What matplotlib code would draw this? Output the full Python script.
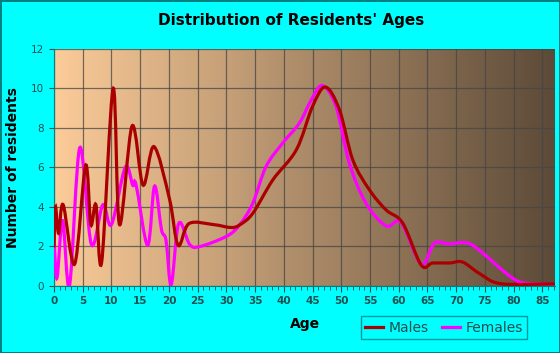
import numpy as np
import matplotlib.pyplot as plt
from matplotlib.path import Path
from matplotlib.patches import PathPatch
from matplotlib.lines import Line2D

# points (age, number of residents)
male_age = [0, 0.25, 0.8, 1.6, 3.6, 5.5, 6.4, 7.3, 8.3, 10.3, 11.4, 13.6, 15.5, 17.4, 20.1,
            21.6, 23.5, 27.7, 30.8, 32.3, 34.6, 38.1, 42.2, 45.0, 47.25, 49.7, 52.0, 54.9,
            57.8, 60.7, 63.9, 65.9, 68.8, 71.1, 74.0, 77.8, 87]
male_val = [2.0, 4.0, 2.65, 4.1, 1.1, 6.1, 3.1, 4.1, 1.2, 10.0, 3.1, 8.1, 5.1, 7.05, 4.4,
            2.05, 3.15, 3.1, 2.95, 3.08, 3.67, 5.37, 6.9, 9.09, 10.07, 8.9, 6.38, 4.86,
            3.84, 3.17, 1.05, 1.15, 1.15, 1.2, 0.63, 0.1, 0.1]

female_age = [0, 0.5, 1.5, 2.7, 4.5, 6.5, 8.5, 10.0, 12.4, 13.7, 14.3, 16.3, 17.5, 18.7, 19.5,
              20.4, 21.7, 23.6, 25.3, 30.0, 32.3, 34.6, 36.9, 39.8, 42.7, 44.8, 46.7, 49.1,
              51.4, 54.3, 57.8, 60.4, 63.9, 66.2, 68.8, 71.7, 74.0, 78.7, 81.6, 87]
female_val = [2.6, 0.37, 3.3, 0.0, 7.0, 2.1, 4.1, 3.1, 6.0, 5.1, 5.1, 2.05, 5.05, 2.85, 2.3,
              0.05, 3.15, 2.1, 1.98, 2.5, 3.08, 4.18, 6.04, 7.23, 8.24, 9.43, 10.14, 9.09,
              6.21, 4.18, 3.03, 3.2, 1.1, 2.15, 2.12, 2.18, 1.81, 0.63, 0.15, 0.1]


def smooth_path(xs, ys):
    # catmull-rom through the points, drawn as cubic bezier segments
    p = np.column_stack([xs, ys]).astype(float)
    verts = [p[0]]
    codes = [Path.MOVETO]
    n = len(p)
    for i in range(n - 1):
        p0 = p[i - 1] if i > 0 else p[i]
        p1, p2 = p[i], p[i + 1]
        p3 = p[i + 2] if i + 2 < n else p[i + 1]
        c1 = p1 + (p2 - p0) / 6.0
        c2 = p2 - (p3 - p1) / 6.0
        verts += [c1, c2, p2]
        codes += [Path.CURVE4] * 3
    return Path(verts, codes)


teal = '#008080'
fig = plt.figure(figsize=(5.6, 3.53), dpi=100, facecolor='#00FFFF',
                 edgecolor=teal, linewidth=2)
ax = fig.add_axes([54 / 560, (353 - 285.7) / 353, (555 - 54) / 560, (285.7 - 49) / 353])
ax.set_xlim(0, 87.2)
ax.set_ylim(0, 12)

# gradient background
left = np.array([252, 204, 153]) / 255
right = np.array([92, 74, 56]) / 255
t = np.linspace(0, 1, 256)[None, :, None]
grad = left + (right - left) * t
ax.imshow(grad, extent=[0, 87.2, 0, 12], aspect='auto', zorder=0)

ax.set_xticks(range(0, 86, 5))
ax.set_xticks(range(0, 88), minor=True)
ax.set_yticks(range(0, 13, 2))
ax.grid(True, color='#454545', linewidth=0.9, alpha=0.75, zorder=1)

ax.add_patch(PathPatch(smooth_path(female_age, female_val), fill=False,
                       edgecolor='#FF00FF', linewidth=2.3, zorder=3, capstyle='round'))
ax.add_patch(PathPatch(smooth_path(male_age, male_val), fill=False,
                       edgecolor='#AA0000', linewidth=2.3, zorder=4, capstyle='round'))

for s in ['top', 'right']:
    ax.spines[s].set_visible(False)
for s in ['left', 'bottom']:
    ax.spines[s].set_color(teal)
ax.tick_params(axis='both', which='both', colors='#1f4f4f', labelsize=7.5)
ax.tick_params(axis='x', which='minor', length=3)
ax.tick_params(axis='x', which='major', length=4)
for lab in ax.get_xticklabels():
    lab.set_fontweight('bold')

ax.set_xlabel('Age', fontsize=10, fontweight='bold', labelpad=8)
ax.set_ylabel('Number of residents', fontsize=10, fontweight='bold', labelpad=8)
fig.text(0.52, 0.943, "Distribution of Residents' Ages", ha='center', va='center',
         fontsize=11, fontweight='bold')

handles = [Line2D([], [], color='#AA0000', linewidth=2.3),
           Line2D([], [], color='#FF00FF', linewidth=2.3)]
leg = fig.legend(handles, ['Males', 'Females'], loc='center', ncol=2,
                 bbox_to_anchor=(444 / 560, 1 - 327.5 / 353), frameon=True,
                 fancybox=False, fontsize=10, handlelength=1.3, handletextpad=0.4,
                 columnspacing=0.9, borderpad=0.3)
leg.get_frame().set_edgecolor(teal)
leg.get_frame().set_facecolor('#00FFFF')
leg.get_frame().set_linewidth(1)
for txt in leg.get_texts():
    txt.set_color('#1f4f4f')

fig.savefig('out.png', dpi=100, facecolor=fig.get_facecolor(), edgecolor=teal)
